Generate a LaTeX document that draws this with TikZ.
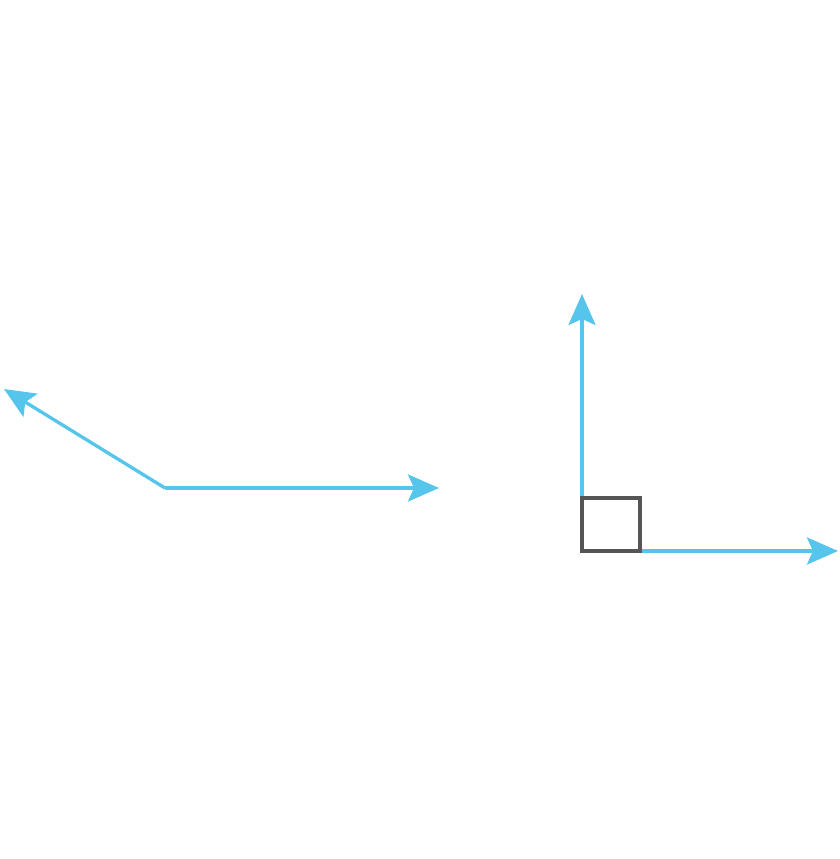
\documentclass[tikz,border=0pt]{standalone}
\usetikzlibrary{arrows.meta}

\definecolor{rayblue}{HTML}{56C5EB}
\definecolor{boxgrey}{HTML}{555555}

\tikzset{
    ray/.style = {rayblue, line width = 3.3pt, -{Stealth[length = 31pt, width = 27pt, inset = 6pt]}},
    rightmark/.style = {boxgrey, line width = 3.5pt}
}

\begin{document}
\begin{tikzpicture}[x = 1pt, y = -1pt]
        \useasboundingbox (0, 0) rectangle (840, 859);

        % obtuse angle
        \coordinate (obtvertex) at (165, 488);
        \coordinate (obtright) at (439, 488);
        \coordinate (obtleft) at (4, 389);
        \draw[ray] (obtvertex) -- (obtright);
        \draw[ray] (obtvertex) -- (obtleft);

        % right angle
        \coordinate (rtvertex) at (582, 551);
        \coordinate (rtup) at (582, 294);
        \coordinate (rtright) at (838, 551);
        \draw[ray] (rtvertex) -- (rtup);
        \draw[ray] (rtvertex) -- (rtright);
        \draw[rightmark] (rtvertex) rectangle ++(58, -53);
    \end{tikzpicture}
\end{document}
